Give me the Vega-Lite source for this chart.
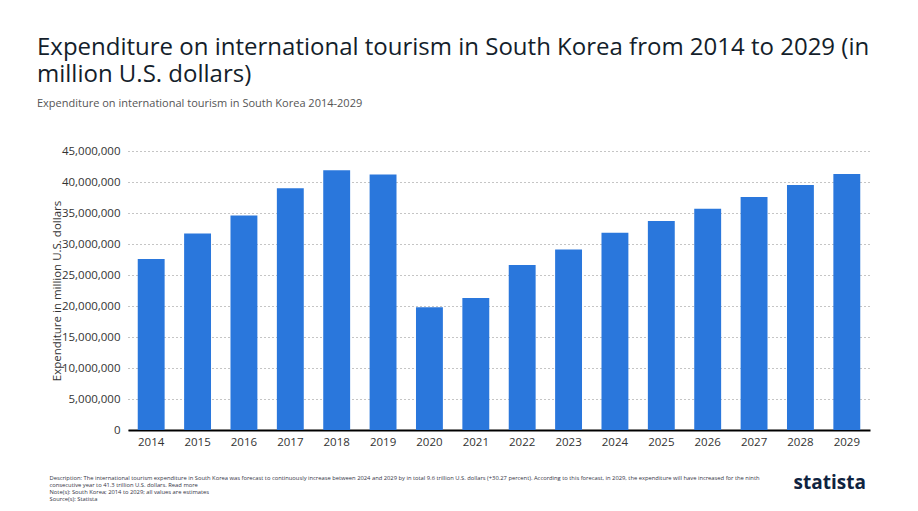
{
  "$schema": "https://vega.github.io/schema/vega-lite/v6.json",
  "width": 742,
  "height": 279,
  "autosize": {"type": "none"},
  "padding": {"left": 128, "top": 151, "right": 48, "bottom": 81},
  "background": "white",
  "title": {
    "text": ["Expenditure on international tourism in South Korea from 2014 to 2029 (in", "million U.S. dollars)"],
    "subtitle": "Expenditure on international tourism in South Korea 2014-2029",
    "anchor": "start",
    "frame": "group",
    "dx": -91,
    "offset": 36,
    "font": "Open Sans",
    "fontSize": 24,
    "fontWeight": "normal",
    "lineHeight": 27,
    "color": "#141e2b",
    "subtitleFont": "Open Sans",
    "subtitleFontSize": 11,
    "subtitleColor": "#555555",
    "subtitlePadding": 11
  },
  "data": {
    "values": [
      {"year": "2014", "spend": 27600000},
      {"year": "2015", "spend": 31700000},
      {"year": "2016", "spend": 34600000},
      {"year": "2017", "spend": 39000000},
      {"year": "2018", "spend": 41900000},
      {"year": "2019", "spend": 41200000},
      {"year": "2020", "spend": 19800000},
      {"year": "2021", "spend": 21300000},
      {"year": "2022", "spend": 26600000},
      {"year": "2023", "spend": 29100000},
      {"year": "2024", "spend": 31800000},
      {"year": "2025", "spend": 33700000},
      {"year": "2026", "spend": 35700000},
      {"year": "2027", "spend": 37600000},
      {"year": "2028", "spend": 39500000},
      {"year": "2029", "spend": 41300000}
    ]
  },
  "encoding": {
    "x": {
      "field": "year",
      "type": "ordinal",
      "scale": {"paddingInner": 0.42, "paddingOuter": 0.21},
      "axis": {
        "labelAngle": 0,
        "labelFont": "Open Sans",
        "labelFontSize": 11.5,
        "labelColor": "#333333",
        "labelPadding": 6,
        "ticks": false,
        "domain": true,
        "domainColor": "#000000",
        "domainWidth": 2,
        "grid": false,
        "title": [
          "Description: The international tourism expenditure in South Korea was forecast to continuously increase between 2024 and 2029 by in total 9.6 trillion U.S. dollars (+30.27 percent). According to this forecast, in 2029, the expenditure will have increased for the ninth",
          "consecutive year to 41.3 trillion U.S. dollars. Read more",
          "Note(s): South Korea; 2014 to 2029; all values are estimates",
          "Source(s): Statista"
        ],
        "titleFont": "Open Sans",
        "titleFontSize": 5.8,
        "titleFontWeight": "normal",
        "titleLineHeight": 7,
        "titleColor": "#333344",
        "titleAnchor": "start",
        "titleAlign": "left",
        "titleBaseline": "top",
        "titleX": -79,
        "titleY": 44
      }
    }
  },
  "layer": [
    {
      "mark": {"type": "bar", "color": "#2a77dc"},
      "encoding": {
        "y": {
          "field": "spend",
          "type": "quantitative",
          "scale": {"domain": [0, 45000000]},
          "axis": {
            "values": [0, 5000000, 10000000, 15000000, 20000000, 25000000, 30000000, 35000000, 40000000, 45000000],
            "format": ",d",
            "labelFont": "Open Sans",
            "labelFontSize": 11.5,
            "labelColor": "#333333",
            "labelPadding": 8,
            "ticks": false,
            "domain": false,
            "grid": true,
            "gridColor": "#8a8a8a",
            "gridDash": [1, 3],
            "gridWidth": 1,
            "title": "Expenditure in million U.S. dollars",
            "titleFont": "Open Sans",
            "titleFontSize": 11.5,
            "titleFontWeight": "normal",
            "titleColor": "#333333",
            "titlePadding": -1
          }
        }
      }
    },
    {
      "mark": {"type": "bar", "opacity": 0},
      "encoding": {
        "y": {
          "field": "spend",
          "type": "quantitative",
          "scale": {"domain": [0, 45000000]},
          "axis": {
            "orient": "right",
            "labels": false,
            "ticks": false,
            "domain": false,
            "grid": false,
            "title": "statista",
            "titleAngle": 0,
            "titleFont": "Open Sans",
            "titleFontSize": 19,
            "titleFontWeight": "bold",
            "titleColor": "#0f2340",
            "titleAlign": "left",
            "titleBaseline": "middle",
            "titleX": -77,
            "titleY": 331
          }
        }
      }
    }
  ],
  "resolve": {"scale": {"y": "independent"}, "axis": {"y": "independent"}},
  "config": {"view": {"stroke": null}}
}
